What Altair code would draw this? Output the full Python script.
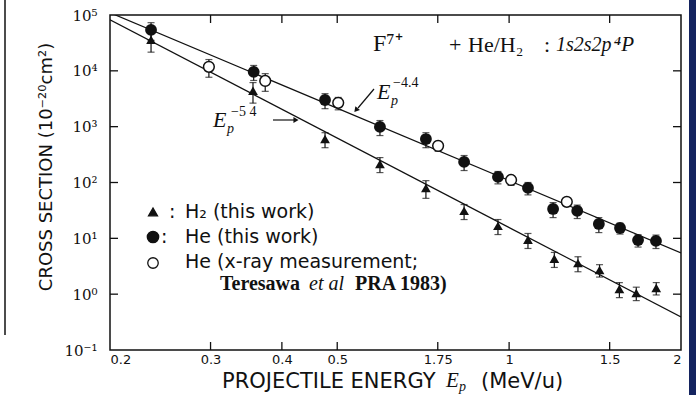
import json
import altair as alt
import pandas as pd

# ---- data ----
h2_E = [0.236, 0.356, 0.476, 0.594, 0.715, 0.834, 0.956, 1.079, 1.20, 1.32, 1.44, 1.56, 1.67, 1.81]
h2_v = [3.6e4, 4.4e3, 600, 215, 80, 31, 16.7, 9.4, 4.3, 3.6, 2.7, 1.24, 1.05, 1.29]
h2_err = [0.4, 0.4, 0.3, 0.3, 0.35, 0.3, 0.3, 0.3, 0.3, 0.3, 0.25, 0.3, 0.27, 0.25]

he_E = [0.236, 0.357, 0.476, 0.594, 0.715, 0.834, 0.956, 1.079, 1.194, 1.316, 1.436, 1.564, 1.682, 1.808]
he_v = [5.4e4, 9.6e3, 3.0e3, 990, 600, 234, 126, 80, 33.6, 31, 18.1, 15.3, 9.3, 9.0]
he_err = [0.35, 0.3, 0.3, 0.3, 0.3, 0.3, 0.25, 0.25, 0.3, 0.27, 0.3, 0.22, 0.25, 0.27]

xr_E = [0.298, 0.374, 0.502, 0.751, 1.008, 1.262]
xr_v = [1.18e4, 6.6e3, 2.67e3, 453, 111, 45]
xr_err = [0.35, 0.35, 0.25, 0.2, 0.2, 0.15]

fit_E = [0.2, 2.0]
fit_he_v = [1.1e5, 5.5]    # E^-4.4
fit_h2_v = [8.2e4, 0.39]   # E^-5.4

x_tick_values = [0.2, 0.3, 0.4, 0.5, 0.75, 1, 1.5, 2]
x_tick_labels = ["0.2", "0.3", "0.4", "0.5", "1.75", "1", "1.5", "2"]
y_tick_values = [0.1, 1, 10, 100, 1000, 10000, 100000]
y_tick_labels = ["10⁻¹", "10⁰", "10¹", "10²", "10³", "10⁴", "10⁵"]
x_inner_ticks = [0.3, 0.4, 0.5, 0.75, 1, 1.5]
y_inner_ticks = [1, 10, 100, 1000, 10000]

# ---- layout ----
OX, OY = 110, 15
W, H = 571, 335
INK = "#111111"
SERIF = "Liberation Serif"

xs = alt.Scale(type="log", domain=[0.2, 2])
ys = alt.Scale(type="log", domain=[0.1, 1e5])

xlabel_expr = "%s[indexof(%s, datum.value)]" % (json.dumps(x_tick_labels, ensure_ascii=False), json.dumps(x_tick_values))
ylabel_expr = "%s[indexof(%s, datum.value)]" % (json.dumps(y_tick_labels, ensure_ascii=False), json.dumps(y_tick_values))

x_axis = alt.Axis(values=x_tick_values, labelExpr=xlabel_expr, ticks=False, tickSize=0, domain=False,
                  grid=False, title=None, labelFont="DejaVu Sans", labelFontSize=13, labelColor=INK,
                  labelPadding=3, labelOverlap=False)
y_axis = alt.Axis(values=y_tick_values, labelExpr=ylabel_expr, ticks=False, tickSize=0, domain=False,
                  grid=False, title=None, labelFont="DejaVu Serif", labelFontSize=15, labelColor=INK,
                  labelPadding=13, labelOverlap=False)


def pts(E, v, err):
    return pd.DataFrame({
        "E": E, "v": v,
        "lo": [a * (1 - e) for a, e in zip(v, err)],
        "hi": [a * (1 + e) for a, e in zip(v, err)],
    })


df_h2 = pts(h2_E, h2_v, h2_err)
df_he = pts(he_E, he_v, he_err)
df_xr = pts(xr_E, xr_v, xr_err)

X = alt.X("E:Q", scale=xs, axis=x_axis)
Y = alt.Y("v:Q", scale=ys, axis=y_axis)

layers = []

# inward ticks
ydf = pd.DataFrame({"v": y_inner_ticks})
xdf = pd.DataFrame({"E": x_inner_ticks})
layers.append(alt.Chart(ydf).mark_rule(color=INK, strokeWidth=1.3).encode(y=Y, x=alt.value(0), x2=alt.value(8)))
layers.append(alt.Chart(ydf).mark_rule(color=INK, strokeWidth=1.3).encode(y=Y, x=alt.value(W - 8), x2=alt.value(W)))
layers.append(alt.Chart(xdf).mark_rule(color=INK, strokeWidth=1.3).encode(x=X, y=alt.value(H - 8), y2=alt.value(H)))
layers.append(alt.Chart(xdf).mark_rule(color=INK, strokeWidth=1.3).encode(x=X, y=alt.value(0), y2=alt.value(8)))

# fit lines
fit_df = pd.DataFrame({"E": fit_E + fit_E, "v": fit_he_v + fit_h2_v, "s": ["he", "he", "h2", "h2"]})
layers.append(alt.Chart(fit_df).mark_line(color=INK, strokeWidth=1.2, clip=True).encode(
    x=X, y=Y, detail="s:N"))

# error bars + points
for df, kind in [(df_h2, "h2"), (df_he, "he"), (df_xr, "xr")]:
    layers.append(alt.Chart(df).mark_rule(color=INK, strokeWidth=1.2).encode(
        x=X, y=alt.Y("lo:Q", scale=ys, axis=y_axis), y2="hi:Q"))
    for col in ["lo", "hi"]:
        layers.append(alt.Chart(df).mark_tick(color=INK, orient="horizontal", size=7, thickness=1.2).encode(
            x=X, y=alt.Y(col + ":Q", scale=ys, axis=y_axis)))
    if kind == "h2":
        m = alt.Chart(df).mark_point(shape="triangle-up", filled=True, size=95, color=INK, opacity=1)
    elif kind == "he":
        m = alt.Chart(df).mark_point(shape="circle", filled=True, size=140, color=INK, opacity=1)
    else:
        m = alt.Chart(df).mark_point(shape="circle", filled=True, fill="white", stroke=INK,
                                     strokeWidth=1.5, size=115, opacity=1)
    layers.append(m.encode(x=X, y=Y))

ONE = alt.Data(values=[{}])


def txt(s, x, y, size=16, font="DejaVu Sans", style="normal", weight="normal", align="left", angle=0):
    kw = dict(text=s, align=align, baseline="middle", fontSize=size, font=font, fontStyle=style,
              fontWeight=weight, color=INK)
    if angle:
        kw["angle"] = angle
    return alt.Chart(ONE).mark_text(**kw).encode(x=alt.value(x - OX), y=alt.value(y - OY))


def sym(shape, x, y, size, fill=INK):
    return alt.Chart(ONE).mark_point(shape=shape, filled=True, fill=fill, stroke=INK, strokeWidth=1.3,
                                     size=size, opacity=1).encode(x=alt.value(x - OX), y=alt.value(y - OY))


# title annotation
layers += [
    txt("F⁷⁺", 373, 44, 24, SERIF),
    txt("+", 449, 45, 22, SERIF),
    txt("He/H₂", 468, 45, 22, SERIF),
    txt(":", 544, 45, 22, SERIF),
    txt("1s2s2p", 556, 45, 20, SERIF, style="italic"),
    txt("⁴P", 634, 45, 21, SERIF, style="italic", align="right"),
]

# power-law labels and arrows
layers += [
    txt("E", 213, 120, 22, SERIF, style="italic"),
    txt("p", 227, 129, 14, SERIF, style="italic"),
    txt("−5 4", 231, 112, 14, SERIF),
    alt.Chart(ONE).mark_rule(color=INK, strokeWidth=1.2).encode(
        x=alt.value(273 - OX), x2=alt.value(295 - OX), y=alt.value(120 - OY), y2=alt.value(120 - OY)),
    alt.Chart(ONE).mark_point(shape="triangle-right", filled=True, color=INK, size=35, opacity=1).encode(
        x=alt.value(296 - OX), y=alt.value(120 - OY)),
    txt("E", 377, 92, 22, SERIF, style="italic"),
    txt("p", 391, 101, 14, SERIF, style="italic"),
    txt("−4.4", 393, 83, 14, SERIF),
    alt.Chart(ONE).mark_rule(color=INK, strokeWidth=1.2).encode(
        x=alt.value(374 - OX), x2=alt.value(358 - OX), y=alt.value(89 - OY), y2=alt.value(108 - OY)),
    alt.Chart(ONE).mark_point(shape="triangle-up", filled=True, color=INK, size=35, angle=220, opacity=1).encode(
        x=alt.value(356 - OX), y=alt.value(110 - OY)),
]

# in-plot legend
layers += [
    sym("triangle-up", 153, 212, 80),
    txt(":", 169, 212, 19),
    txt("H₂ (this work)", 185, 212, 19),
    sym("circle", 153, 237, 130),
    txt(":", 161, 237, 19),
    txt("He (this work)", 185, 237, 19),
    sym("circle", 153, 263, 110, fill="white"),
    txt("He (x-ray measurement;", 185, 262, 19),
    txt("Teresawa", 220, 284, 20, SERIF, weight="bold"),
    txt("et al", 309, 284, 20, SERIF, style="italic"),
    txt("PRA 1983)", 355, 284, 20, SERIF, weight="bold"),
]

# axis titles
layers += [
    txt("CROSS SECTION (10⁻²⁰cm²)", 47, 167, 18, align="center", angle=270),
    txt("PROJECTILE ENERGY", 222, 382, 21),
    txt("E", 446, 381, 21, SERIF, style="italic"),
    txt("p", 459, 387, 14, SERIF, style="italic"),
    txt("(MeV/u)", 481, 382, 21),
]

# slide decorations at the edges
layers += [
    alt.Chart(ONE).mark_rect(color="#14235f").encode(
        x=alt.value(689 - OX), x2=alt.value(696 - OX), y=alt.value(-OY), y2=alt.value(395 - OY)),
    alt.Chart(ONE).mark_rule(color=INK, strokeWidth=1.5).encode(
        x=alt.value(5 - OX), x2=alt.value(5 - OX), y=alt.value(-OY), y2=alt.value(335 - OY)),
]

chart = alt.layer(*layers).properties(
    width=W, height=H,
    padding={"left": OX, "top": OY, "right": 696 - OX - W, "bottom": 395 - OY - H},
    autosize=alt.AutoSizeParams(type="none"),
    background="white",
).configure_view(stroke=INK, strokeWidth=1.5)

chart.save("out.html", embed_options={"renderer": "svg", "actions": False})
